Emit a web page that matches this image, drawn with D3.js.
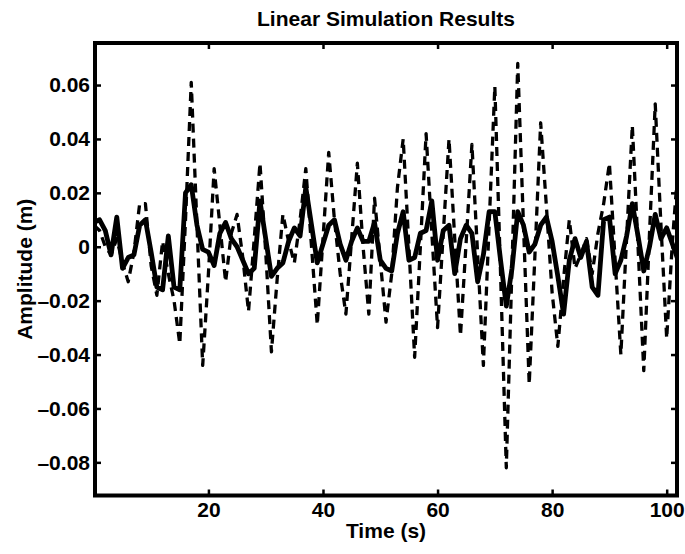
<!DOCTYPE html>
<html>
<head>
<meta charset="utf-8">
<script src="https://cdn.jsdelivr.net/npm/d3@7"></script>
<style>
  body { margin: 0; background: #fff; }
  text { font-family: "Liberation Sans", Arial, sans-serif; font-weight: bold; fill: #000; }
</style>
</head>
<body>
<svg id="chart"></svg>
<script>
const width = 685, height = 554;
const margin = { top: 43, right: 8, bottom: 58.5, left: 95 };

// time grid (s)
const time = [0, 1, 2, 3, 4, 5, 6, 7, 8, 9, 10, 11, 12, 13, 14, 15, 16, 17, 18, 19,
  20, 21, 22, 23, 24, 25, 26, 27, 28, 29, 30, 31, 32, 33, 34, 35, 36, 37, 38, 39,
  40, 41, 42, 43, 44, 45, 46, 47, 48, 49, 50, 51, 52, 53, 54, 55, 56, 57, 58, 59,
  60, 61, 62, 63, 64, 65, 66, 67, 68, 69, 70, 71, 72, 73, 74, 75, 76, 77, 78, 79,
  80, 81, 82, 83, 84, 85, 86, 87, 88, 89, 90, 91, 92, 93, 94, 95, 96, 97, 98, 99,
  100, 101, 102];

// solid response
const solid = [0.009, 0.010, 0.006, -0.003, 0.011, -0.008, -0.004, -0.003, 0.008, 0.010,
  -0.002, -0.015, -0.016, 0.004, -0.015, -0.016, 0.020, 0.023, 0.008, -0.001,
  -0.002, -0.007, 0.005, 0.009, 0.003, 0.000, -0.005, -0.010, -0.008, 0.017,
  0.003, -0.011, -0.008, -0.006, 0.002, 0.007, 0.004, 0.022, 0.008, -0.006,
  0.001, 0.008, 0.010, 0.001, -0.005, 0.002, 0.007, 0.002, 0.002, 0.009,
  -0.005, -0.008, -0.009, 0.005, 0.013, -0.005, -0.004, 0.005, 0.006, 0.017,
  -0.005, 0.006, 0.008, -0.010, 0.003, 0.008, 0.005, -0.013, -0.003, 0.013,
  0.013, -0.005, -0.022, -0.008, 0.013, 0.008, -0.002, 0.001, 0.008, 0.011,
  0.002, -0.011, -0.025, -0.005, 0.003, -0.004, 0.002, -0.015, -0.018, 0.010,
  0.011, -0.010, -0.005, 0.004, 0.016, 0.004, -0.009, 0.000, 0.012, 0.003,
  0.007, 0.001, -0.005];

// dashed response
const dashed = [0.008, 0.006, 0.000, -0.003, 0.003, -0.006, -0.013, -0.002, 0.016, 0.016,
  -0.007, -0.018, 0.002, -0.010, -0.020, -0.036, 0.010, 0.061, 0.008, -0.044,
  -0.010, 0.029, 0.008, -0.013, 0.005, 0.012, -0.004, -0.024, 0.003, 0.031,
  -0.002, -0.039, -0.012, 0.012, 0.002, -0.006, 0.010, 0.029, 0.000, -0.029,
  0.003, 0.035, 0.010, -0.010, -0.025, 0.003, 0.031, 0.000, -0.025, 0.018,
  -0.005, -0.028, -0.010, 0.022, 0.040, 0.000, -0.041, 0.000, 0.042, 0.005,
  -0.030, 0.005, 0.040, 0.003, -0.033, 0.002, 0.038, -0.003, -0.044, 0.008,
  0.0595, -0.010, -0.082, -0.007, 0.068, 0.008, -0.051, -0.003, 0.046, 0.015,
  -0.017, -0.037, -0.012, 0.010, -0.008, -0.003, 0.003, -0.010, 0.005, 0.016,
  0.031, -0.005, -0.040, 0.003, 0.045, 0.000, -0.046, 0.005, 0.053, 0.008,
  -0.034, 0.002, 0.030];

const xTicks = [20, 40, 60, 80, 100];
const yTicks = [-0.08, -0.06, -0.04, -0.02, 0, 0.02, 0.04, 0.06];

const w = width - margin.left - margin.right;
const h = height - margin.top - margin.bottom;

const svg = d3.select("#chart")
  .attr("width", width)
  .attr("height", height);

const g = svg.append("g")
  .attr("transform", `translate(${margin.left},${margin.top})`);

const x = d3.scaleLinear().domain([0.2, 101.8]).range([0, w]);
const y = d3.scaleLinear().domain([-0.0923, 0.0756]).range([h, 0]);

g.append("clipPath")
  .attr("id", "clip")
  .append("rect")
  .attr("width", w)
  .attr("height", h);

const line = d3.line()
  .x((d, i) => x(time[i]))
  .y(d => y(d));

const plot = g.append("g").attr("clip-path", "url(#clip)");

plot.append("path")
  .datum(dashed)
  .attr("fill", "none")
  .attr("stroke", "#000")
  .attr("stroke-width", 3.3)
  .attr("stroke-dasharray", "9,6")
  .attr("stroke-linejoin", "round")
  .attr("d", line);

plot.append("path")
  .datum(solid)
  .attr("fill", "none")
  .attr("stroke", "#000")
  .attr("stroke-width", 4.8)
  .attr("stroke-linejoin", "round")
  .attr("d", line);

// Axes (MATLAB style: box with inward ticks)
const tickLen = 6;

const xAxis = g.append("g")
  .attr("transform", `translate(0,${h})`)
  .call(d3.axisBottom(x).tickValues(xTicks).tickSize(-tickLen).tickPadding(7).tickFormat(d3.format("d")));
const xAxisTop = g.append("g")
  .call(d3.axisTop(x).tickValues(xTicks).tickSize(-tickLen).tickFormat(""));

const fmtY = d => d === 0 ? "0" : (d < 0 ? "\u2013" : "") + Math.abs(d).toFixed(2);
const yAxis = g.append("g")
  .call(d3.axisLeft(y).tickValues(yTicks).tickSize(-tickLen).tickPadding(5).tickFormat(fmtY));
const yAxisRight = g.append("g")
  .attr("transform", `translate(${w},0)`)
  .call(d3.axisRight(y).tickValues(yTicks).tickSize(-tickLen).tickFormat(""));

[xAxis, xAxisTop, yAxis, yAxisRight].forEach(a => {
  a.select(".domain").remove();
  a.selectAll("line").attr("stroke", "#000").attr("stroke-width", 2.5);
  a.selectAll("text")
    .style("font-family", "'Liberation Sans', Arial, sans-serif")
    .style("font-weight", "bold")
    .style("font-size", "21px")
    .attr("fill", "#000");
});

g.append("rect")
  .attr("width", w)
  .attr("height", h)
  .attr("fill", "none")
  .attr("stroke", "#000")
  .attr("stroke-width", 4);

// Title and labels
svg.append("text")
  .attr("x", margin.left + w / 2)
  .attr("y", 26)
  .attr("text-anchor", "middle")
  .style("font-size", "21px")
  .text("Linear Simulation Results");

svg.append("text")
  .attr("x", margin.left + w / 2)
  .attr("y", 538)
  .attr("text-anchor", "middle")
  .style("font-size", "21px")
  .text("Time (s)");

svg.append("text")
  .attr("transform", `translate(32,${margin.top + h / 2}) rotate(-90)`)
  .attr("text-anchor", "middle")
  .style("font-size", "21px")
  .text("Amplitude (m)");
</script>
</body>
</html>
